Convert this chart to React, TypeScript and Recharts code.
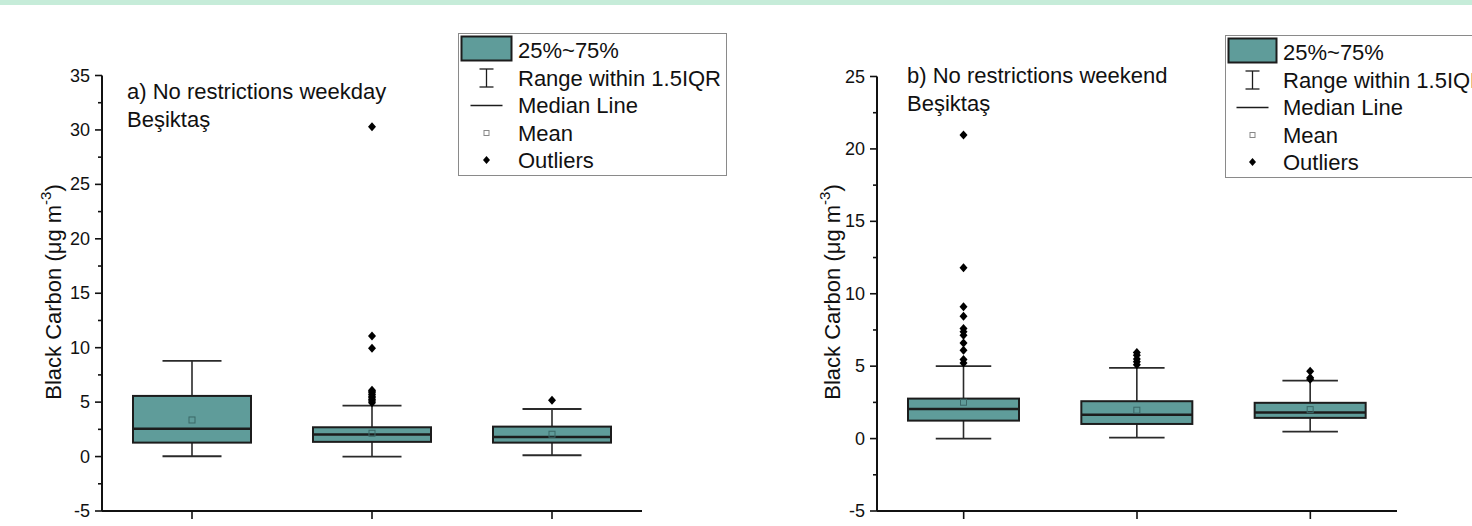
import React from 'react';
import { ComposedChart, Bar, XAxis, YAxis } from 'recharts';

const FONT = '"Liberation Sans", Arial, Helvetica, sans-serif';
const BOX_FILL = '#5f9c9a';
const DARK = '#1c1c1c';
const AXIS = '#111';
const WHISKER = '#2a2a2a';
const MEAN_STROKE = '#3b6867';

const categories = ['Period 1', 'Period 2', 'Period 3'];

// a) No restrictions weekday
const weekdayLow = [0.03, 0.0, 0.12];
const weekdayQ1 = [1.28, 1.35, 1.28];
const weekdayMedian = [2.55, 2.02, 1.8];
const weekdayQ3 = [5.57, 2.69, 2.75];
const weekdayHigh = [8.78, 4.68, 4.37];
const weekdayMean = [3.36, 2.14, 2.05];
const weekdayOutliers = [
  [],
  [30.3, 11.07, 9.94, 6.1, 6.0, 5.85, 5.7, 5.55, 5.4, 5.25, 5.1, 4.95],
  [5.17],
];

// b) No restrictions weekend
const weekendLow = [0.0, 0.07, 0.48];
const weekendQ1 = [1.24, 1.01, 1.43];
const weekendMedian = [2.05, 1.64, 1.8];
const weekendQ3 = [2.76, 2.58, 2.47];
const weekendHigh = [5.0, 4.88, 4.0];
const weekendMean = [2.51, 1.96, 2.0];
const weekendOutliers = [
  [20.96, 11.79, 9.1, 8.45, 7.6, 7.37, 7.14, 6.6, 6.1, 5.46, 5.22],
  [5.95, 5.75, 5.5, 5.3, 5.1],
  [4.65, 4.2, 4.1],
];

const yMajorTicksA = [-5, 0, 5, 10, 15, 20, 25, 30, 35];
const yMajorTicksB = [-5, 0, 5, 10, 15, 20, 25];

const legendLabels = ['25%~75%', 'Range within 1.5IQR', 'Median Line', 'Mean', 'Outliers'];

const withMinor = (major: number[]) => {
  const out: number[] = [];
  major.forEach((v, i) => {
    out.push(v);
    if (i < major.length - 1) out.push((v + major[i + 1]) / 2);
  });
  return out;
};

const buildData = (
  low: number[], q1: number[], med: number[], q3: number[], high: number[], mean: number[], outl: number[][]
) =>
  categories.map((c, i) => ({
    cat: c,
    range: [low[i], high[i]],
    low: low[i],
    q1: q1[i],
    median: med[i],
    q3: q3[i],
    high: high[i],
    mean: mean[i],
    outliers: outl[i],
  }));

const dataA = buildData(weekdayLow, weekdayQ1, weekdayMedian, weekdayQ3, weekdayHigh, weekdayMean, weekdayOutliers);
const dataB = buildData(weekendLow, weekendQ1, weekendMedian, weekendQ3, weekendHigh, weekendMean, weekendOutliers);

const BoxShape = (props: any) => {
  const { x, y, width, height, payload } = props;
  if (!payload || x == null) return null;
  const top = Math.min(y, y + height);
  const bottom = Math.max(y, y + height);
  const { low, high, q1, median, q3, mean, outliers } = payload;
  const px = (v: number) => bottom - ((v - low) / (high - low)) * (bottom - top);
  const cx = x + width / 2;
  const capHalf = width / 4;
  return (
    <g>
      <line x1={cx} x2={cx} y1={px(high)} y2={px(q3)} stroke={WHISKER} strokeWidth={1.6} />
      <line x1={cx} x2={cx} y1={px(q1)} y2={px(low)} stroke={WHISKER} strokeWidth={1.6} />
      <line x1={cx - capHalf} x2={cx + capHalf} y1={px(high)} y2={px(high)} stroke={WHISKER} strokeWidth={1.8} />
      <line x1={cx - capHalf} x2={cx + capHalf} y1={px(low)} y2={px(low)} stroke={WHISKER} strokeWidth={1.8} />
      <rect x={x} y={px(q3)} width={width} height={px(q1) - px(q3)} fill={BOX_FILL} stroke={DARK} strokeWidth={2} />
      <line x1={x} x2={x + width} y1={px(median)} y2={px(median)} stroke={DARK} strokeWidth={2.5} />
      <rect x={cx - 3} y={px(mean) - 3} width={6} height={6} fill="none" stroke={MEAN_STROKE} strokeWidth={1} />
      {outliers.map((v: number, i: number) => {
        const py = px(v);
        return <path key={i} d={`M${cx},${py - 4.5} L${cx + 4},${py} L${cx},${py + 4.5} L${cx - 4},${py} Z`} fill="#000" />;
      })}
    </g>
  );
};

const YTick = (props: any) => {
  const { x, y, payload } = props;
  const v = payload.value;
  const major = Math.abs(v % 5) < 1e-9;
  return (
    <g>
      <line x1={x - (major ? 7 : 4)} x2={x} y1={y} y2={y} stroke={AXIS} strokeWidth={1.6} />
      {major && (
        <text x={x - 12} y={y} textAnchor="end" dominantBaseline="central" fontSize={18} fontFamily={FONT} fill="#111">
          {v}
        </text>
      )}
    </g>
  );
};

const XTick = (props: any) => {
  const { x, y } = props;
  return <line x1={x} x2={x} y1={y} y2={y + 8} stroke={AXIS} strokeWidth={1.6} />;
};

const YLabel = ({ cx, cy }: { cx: number; cy: number }) => (
  <text
    x={cx}
    y={cy}
    transform={`rotate(-90, ${cx}, ${cy})`}
    textAnchor="middle"
    dominantBaseline="central"
    fontSize={22}
    fontFamily={FONT}
    fill="#111"
  >
    Black Carbon (μg m
    <tspan dy={-8} fontSize={15}>-3</tspan>
    <tspan dy={8}>)</tspan>
  </text>
);

const LegendBox = ({ x, y, w, h, symX, textX }: { x: number; y: number; w: number; h: number; symX: number; textX: number }) => {
  const rows = [y + 16.5, y + 44.5, y + 72, y + 99.5, y + 126.5];
  return (
    <g>
      <rect x={x} y={y} width={w} height={h} fill="#fff" stroke="#8a8a8a" strokeWidth={1} />
      <rect x={x + 3} y={y + 3} width={symX * 2 - 2 * (x + 3)} height={24} fill={BOX_FILL} stroke={DARK} strokeWidth={2} />
      <line x1={symX} x2={symX} y1={rows[1] - 9} y2={rows[1] + 9} stroke={DARK} strokeWidth={1.3} />
      <line x1={symX - 7} x2={symX + 7} y1={rows[1] - 9} y2={rows[1] - 9} stroke={DARK} strokeWidth={1.3} />
      <line x1={symX - 7} x2={symX + 7} y1={rows[1] + 9} y2={rows[1] + 9} stroke={DARK} strokeWidth={1.3} />
      <line x1={symX - 16} x2={symX + 16} y1={rows[2]} y2={rows[2]} stroke={DARK} strokeWidth={1.5} />
      <rect x={symX - 2.5} y={rows[3] - 2.5} width={5} height={5} fill="none" stroke="#888" strokeWidth={1} />
      <path d={`M${symX},${rows[4] - 4} L${symX + 3.5},${rows[4]} L${symX},${rows[4] + 4} L${symX - 3.5},${rows[4]} Z`} fill="#000" />
      {legendLabels.map((t, i) => (
        <text key={t} x={textX} y={rows[i]} dominantBaseline="central" fontSize={22} fontFamily={FONT} fill="#111">
          {t}
        </text>
      ))}
    </g>
  );
};

const Y_AXIS_W = 60;
const X_AXIS_H = 15;

const Panel = ({
  data, width, left, right, top, domain, ticks, barSize,
}: {
  data: any[]; width: number; left: number; right: number; top: number; domain: [number, number]; ticks: number[]; barSize: number;
}) => (
  <ComposedChart
    width={width}
    height={526}
    data={data}
    margin={{ top, left: left - Y_AXIS_W, right, bottom: 0 }}
  >
    <XAxis
      dataKey="cat"
      type="category"
      height={X_AXIS_H}
      tickSize={0}
      tickMargin={0}
      tickLine={false}
      tick={XTick}
      axisLine={{ stroke: AXIS, strokeWidth: 2 }}
    />
    <YAxis
      type="number"
      width={Y_AXIS_W}
      domain={domain}
      ticks={ticks}
      interval={0}
      allowDataOverflow
      tickSize={0}
      tickMargin={0}
      tickLine={false}
      tick={YTick}
      axisLine={{ stroke: AXIS, strokeWidth: 2 }}
    />
    <Bar dataKey="range" barSize={barSize} shape={BoxShape} isAnimationActive={false} />
  </ComposedChart>
);

export default function App() {
  return (
    <div
      style={{
        position: 'fixed',
        left: 0,
        top: 0,
        width: 1472,
        height: 526,
        overflow: 'hidden',
        background: '#fff',
        fontFamily: FONT,
      }}
    >
      <div style={{ position: 'absolute', left: 0, top: 0, width: 1472, height: 5, background: '#c6ecd9' }} />
      <div style={{ position: 'absolute', left: 0, top: 0, width: 740, height: 526 }}>
        <Panel
          data={dataA}
          width={740}
          left={102}
          right={98}
          top={75.5}
          domain={[-5, 35]}
          ticks={withMinor(yMajorTicksA)}
          barSize={118}
        />
        <svg width={740} height={526} style={{ position: 'absolute', left: 0, top: 0, pointerEvents: 'none' }}>
          <text x={127} y={98.5} fontSize={22} fontFamily={FONT} fill="#111">a) No restrictions weekday</text>
          <text x={127} y={127} fontSize={22} fontFamily={FONT} fill="#111">Beşiktaş</text>
          <YLabel cx={53} cy={292} />
          <LegendBox x={458.5} y={33.5} w={268} h={142} symX={486.5} textX={518} />
        </svg>
      </div>
      <div style={{ position: 'absolute', left: 740, top: 0, width: 732, height: 526 }}>
        <Panel
          data={dataB}
          width={732}
          left={137}
          right={75}
          top={76.5}
          domain={[-5, 25]}
          ticks={withMinor(yMajorTicksB)}
          barSize={111}
        />
        <svg width={732} height={526} style={{ position: 'absolute', left: 0, top: 0, pointerEvents: 'none' }}>
          <text x={167} y={83} fontSize={22} fontFamily={FONT} fill="#111">b) No restrictions weekend</text>
          <text x={167} y={110.5} fontSize={22} fontFamily={FONT} fill="#111">Beşiktaş</text>
          <YLabel cx={92} cy={292} />
          <LegendBox x={485.5} y={35.5} w={300} h={142} symX={512.5} textX={543} />
        </svg>
      </div>
    </div>
  );
}
